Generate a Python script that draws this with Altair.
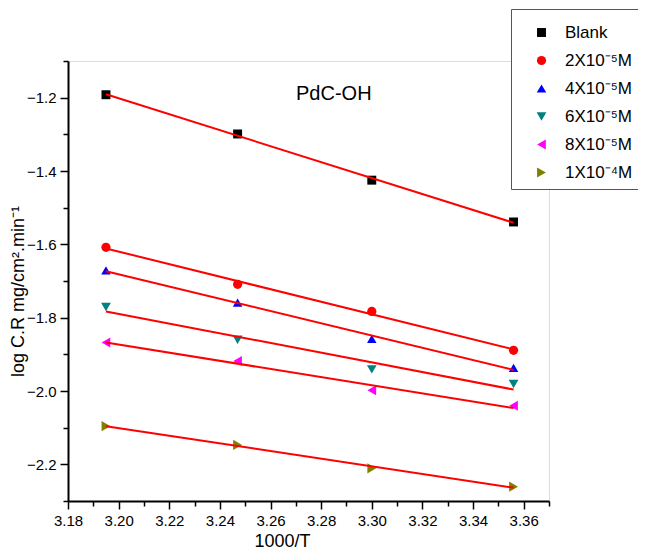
import altair as alt
import pandas as pd

# ---- data ----
inv_T = [3.195, 3.247, 3.300, 3.356]
series_names = ["Blank", "2X10⁻⁵M", "4X10⁻⁵M", "6X10⁻⁵M", "8X10⁻⁵M", "1X10⁻⁴M"]
blank = [-1.192, -1.299, -1.425, -1.539]
c2e5 = [-1.608, -1.709, -1.783, -1.889]
c4e5 = [-1.671, -1.759, -1.858, -1.937]
c6e5 = [-1.771, -1.860, -1.941, -1.981]
c8e5 = [-1.868, -1.918, -1.998, -2.040]
c1e4 = [-2.096, -2.147, -2.211, -2.261]
series_values = [blank, c2e5, c4e5, c6e5, c8e5, c1e4]

colors = ["#000000", "#FF0000", "#0000FF", "#008080", "#FF00FF", "#808000"]
shapes = ["square", "circle", "triangle-up", "triangle-down", "triangle-left", "triangle-right"]
marker_sizes = [80, 105, 185, 185, 185, 185]

x_major = [3.18, 3.20, 3.22, 3.24, 3.26, 3.28, 3.30, 3.32, 3.34, 3.36]
x_minor = [3.19, 3.21, 3.23, 3.25, 3.27, 3.29, 3.31, 3.33, 3.35, 3.37]
y_major = [-2.2, -2.0, -1.8, -1.6, -1.4, -1.2]
y_minor = [-2.3, -2.1, -1.9, -1.7, -1.5, -1.3, -1.1]

annot_text = ["PdC-OH"]
annot_x = [3.285]
annot_y = [-1.191]

rows = []
for name, vals in zip(series_names, series_values):
    for xv, yv in zip(inv_T, vals):
        rows.append({"x": xv, "y": yv, "series": name})
df = pd.DataFrame(rows)
ann = pd.DataFrame({"x": annot_x, "y": annot_y, "t": annot_text})

FONT = "Liberation Sans"

xscale = alt.Scale(domain=[3.18, 3.37], nice=False, zero=False)
yscale = alt.Scale(domain=[-2.3, -1.1], nice=False, zero=False)

common = dict(grid=False, domainColor="black", domainWidth=2, tickColor="black",
              tickWidth=1.5, labelFont=FONT, labelFontSize=15, labelColor="black",
              labelPadding=4, labelFlush=False, labelOverlap=False)

x_axis = alt.Axis(
    orient="bottom", values=x_major, format=".2f", tickSize=8, **common,
    title="1000/T", titleFont=FONT, titleFontSize=18, titleFontWeight="normal",
    titleColor="black", titleX=214, titleY=40, titleBaseline="middle",
)
y_axis = alt.Axis(
    orient="left", values=y_major, format=".1f", tickSize=8, **common,
    title="log C.R mg/cm².min⁻¹", titleFont=FONT, titleFontSize=18,
    titleFontWeight="normal", titleColor="black",
    titleX=-50, titleY=230, titleBaseline="middle", titleAngle=-90,
)
x_axis_minor = alt.Axis(orient="bottom", values=x_minor, tickSize=5, labels=False,
                        domain=False, title=None, grid=False, tickColor="black",
                        tickWidth=1.5)
y_axis_minor = alt.Axis(orient="left", values=y_minor, tickSize=5, labels=False,
                        domain=False, title=None, grid=False, tickColor="black",
                        tickWidth=1.5)

points = alt.Chart(df).mark_point(filled=True, opacity=1).encode(
    x=alt.X("x:Q", scale=xscale, axis=x_axis),
    y=alt.Y("y:Q", scale=yscale, axis=y_axis),
    color=alt.Color("series:N", scale=alt.Scale(domain=series_names, range=colors),
                    sort=series_names,
                    legend=alt.Legend(
                        title=" ", titleFontSize=6, titlePadding=1,
                        orient="none", legendX=443, legendY=-52,
                        padding=8, strokeColor="#555555", fillColor="white",
                        labelFont=FONT, labelFontSize=17, labelColor="black",
                        symbolSize=135, symbolOffset=14, labelOffset=15,
                        rowPadding=10, symbolStrokeWidth=0, symbolOpacity=1,
                        labelLimit=200,
                    )),
    shape=alt.Shape("series:N", scale=alt.Scale(domain=series_names, range=shapes),
                    sort=series_names, legend=None),
    size=alt.Size("series:N", scale=alt.Scale(domain=series_names, range=marker_sizes),
                  legend=None),
)

fits = alt.Chart(df).transform_regression(
    "x", "y", groupby=["series"], method="linear"
).mark_line(color="#FF0000", strokeWidth=2).encode(
    x=alt.X("x:Q", scale=xscale, axis=x_axis_minor),
    y=alt.Y("y:Q", scale=yscale, axis=y_axis_minor),
    detail="series:N",
)

label = alt.Chart(ann).mark_text(font=FONT, fontSize=20, color="black",
                                 align="center", baseline="middle").encode(
    x=alt.X("x:Q", scale=xscale, axis=None),
    y=alt.Y("y:Q", scale=yscale, axis=None),
    text="t:N",
)

chart = alt.layer(points, fits, label).resolve_axis(
    x="independent", y="independent"
).properties(
    width=481, height=440,
    autosize=alt.AutoSizeParams(type="none"),
    padding={"left": 60, "top": 53, "right": 89, "bottom": 49},
).configure_view(stroke=None).configure(background="white")

chart.save("out.html", embed_options={"renderer": "svg", "actions": False})
